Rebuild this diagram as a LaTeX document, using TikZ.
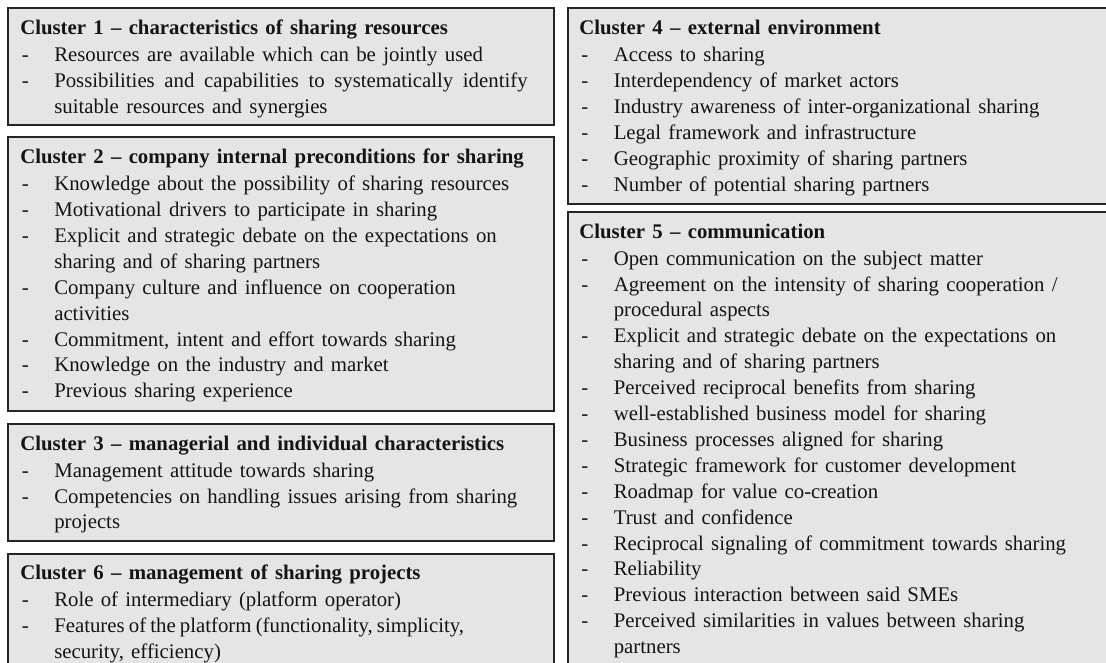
\documentclass[tikz,border=0pt]{standalone}
\usepackage{fontspec}
\setmainfont{Liberation Serif}[WordSpace=1.4]
\usetikzlibrary{fit}

\definecolor{boxfill}{HTML}{E5E5E5}
\definecolor{boxline}{HTML}{262626}
\definecolor{ink}{HTML}{141414}

\tikzset{
  clusterbox/.style={draw=boxline, line width=1.5pt, fill=boxfill, inner sep=0pt},
  txt/.style={anchor=base west, inner sep=0pt, text=ink,
              font=\fontsize{15.6}{18}\selectfont},
  ttl/.style={txt, font=\fontsize{15.6}{18}\selectfont\bfseries},
}

% one bulleted line: name, x of the dash, baseline, text
\newcommand\clusterDash[4]{%
  \node[txt] (#1-d) at (#2,#3) {-};
  \node[txt] (#1) at (#2+32.5,#3) {#4};}
% a wrapped continuation line: name, x of the dash column, baseline, text
\newcommand\clusterCont[4]{%
  \node[txt] (#1) at (#2+32.5,#3) {#4};}
% a line spread out to a given width (justified)
\newcommand\spreadTo[2]{\makebox[#1][s]{#2}}

\begin{document}
\begin{tikzpicture}[x=0.75pt, y=-0.75pt]
  \clip (0,0) rectangle (1106,663);
  \fill[white] (0,0) rectangle (1106,663);

  % ---------- left column ----------
  \node[clusterbox, fit={(8,8) (554,125.5)}] (box1) {};
  \node[ttl] (c1) at (20,34.5) {Cluster 1 – characteristics of sharing resources};
  \clusterDash{c1a}{21.5}{61.3}{Resources are available which can be jointly used}
  \clusterDash{c1b}{21.5}{87.2}{\spreadTo{355pt}{Possibilities and capabilities to systematically identify}}
  \clusterCont{c1c}{21.5}{113.1}{suitable resources and synergies}

  \node[clusterbox, fit={(8,137.5) (554,411)}] (box2) {};
  \node[ttl] (c2) at (20,163.8) {Cluster 2 – company internal preconditions for sharing};
  \clusterDash{c2a}{21.5}{190.6}{Knowledge about the possibility of sharing resources}
  \clusterDash{c2b}{21.5}{216.5}{Motivational drivers to participate in sharing}
  \clusterDash{c2c}{21.5}{242.4}{Explicit and strategic debate on the expectations on}
  \clusterCont{c2d}{21.5}{268.3}{sharing and of sharing partners}
  \clusterDash{c2e}{21.5}{294.2}{Company culture and influence on cooperation}
  \clusterCont{c2f}{21.5}{320.1}{activities}
  \clusterDash{c2g}{21.5}{346.0}{Commitment, intent and effort towards sharing}
  \clusterDash{c2h}{21.5}{371.9}{Knowledge on the industry and market}
  \clusterDash{c2i}{21.5}{397.8}{Previous sharing experience}

  \node[clusterbox, fit={(8,424) (554,540.5)}] (box3) {};
  \node[ttl] (c3) at (20,450.3) {Cluster 3 – managerial and individual characteristics};
  \clusterDash{c3a}{21.5}{477.1}{Management attitude towards sharing}
  \clusterDash{c3b}{21.5}{503.0}{Competencies on handling issues arising from sharing}
  \clusterCont{c3c}{21.5}{528.9}{projects}

  \node[clusterbox, fit={(8,553.5) (554,672)}] (box6) {};
  \node[ttl] (c6) at (20,579.8) {Cluster 6 – management of sharing projects};
  \clusterDash{c6a}{21.5}{606.6}{Role of intermediary (platform operator)}
  \clusterDash{c6b}{21.5}{632.5}{{\spaceskip=0.2em\relax Features of the platform (functionality, simplicity,}}
  \clusterCont{c6c}{21.5}{658.4}{security, efficiency)}

  % ---------- right column ----------
  \node[clusterbox, fit={(568,8.5) (1112,203.5)}] (box4) {};
  \node[ttl] (c4) at (579,35) {Cluster 4 – external environment};
  \clusterDash{c4a}{581}{61.8}{Access to sharing}
  \clusterDash{c4b}{581}{87.7}{Interdependency of market actors}
  \clusterDash{c4c}{581}{113.6}{Industry awareness of inter-organizational sharing}
  \clusterDash{c4d}{581}{139.5}{Legal framework and infrastructure}
  \clusterDash{c4e}{581}{165.4}{Geographic proximity of sharing partners}
  \clusterDash{c4f}{581}{191.3}{Number of potential sharing partners}

  \node[clusterbox, fit={(568,212) (1112,672)}] (box5) {};
  \node[ttl] (c5) at (579,238.3) {Cluster 5 – communication};
  \clusterDash{c5a}{581}{265.1}{Open communication on the subject matter}
  \clusterDash{c5b}{581}{291.0}{Agreement on the intensity of sharing cooperation /}
  \clusterCont{c5c}{581}{316.9}{procedural aspects}
  \clusterDash{c5d}{581}{342.8}{Explicit and strategic debate on the expectations on}
  \clusterCont{c5e}{581}{368.7}{sharing and of sharing partners}
  \clusterDash{c5f}{581}{394.6}{Perceived reciprocal benefits from sharing}
  \clusterDash{c5g}{581}{420.5}{well-established business model for sharing}
  \clusterDash{c5h}{581}{446.4}{Business processes aligned for sharing}
  \clusterDash{c5i}{581}{472.3}{Strategic framework for customer development}
  \clusterDash{c5j}{581}{498.2}{Roadmap for value co-creation}
  \clusterDash{c5k}{581}{524.1}{Trust and confidence}
  \clusterDash{c5l}{581}{550.0}{Reciprocal signaling of commitment towards sharing}
  \clusterDash{c5m}{581}{575.9}{Reliability}
  \clusterDash{c5n}{581}{601.8}{Previous interaction between said SMEs}
  \clusterDash{c5o}{581}{627.7}{Perceived similarities in values between sharing}
  \clusterCont{c5p}{581}{653.6}{partners}
\end{tikzpicture}
\end{document}
